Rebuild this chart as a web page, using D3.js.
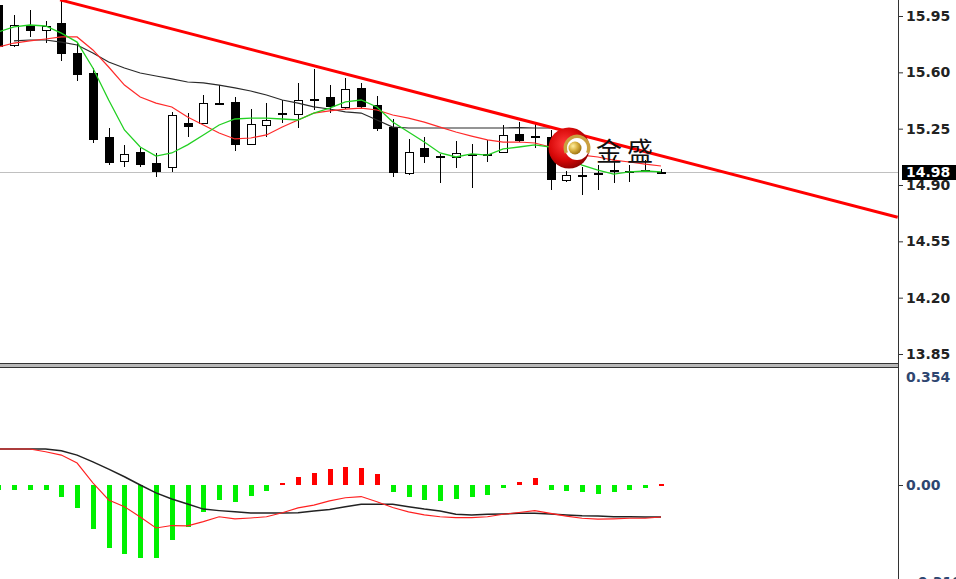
<!DOCTYPE html>
<html><head><meta charset="utf-8">
<script src="https://cdn.jsdelivr.net/npm/d3@7"></script>
<style>html,body{margin:0;padding:0;background:#fff;overflow:hidden}</style>
</head><body>
<svg id="c" width="956" height="579"></svg>
<script>
// ---------- DATA ----------
const opens  = [16.02,15.77,15.894,15.863,15.907,15.72,15.596,15.198,15.05,15.105,15.037,15.012,15.285,15.285,15.412,15.416,15.155,15.273,15.347,15.34,15.434,15.447,15.385,15.503,15.397,15.26,14.975,15.13,15.082,15.074,15.093,15.087,15.105,15.217,15.205,15.198,14.93,14.962,14.97,14.99,14.98,14.99,14.98];
const highs  = [16.08,15.956,15.987,15.92,16.05,15.78,15.627,15.254,15.15,15.13,15.10,15.354,15.347,15.46,15.52,15.447,15.372,15.41,15.428,15.534,15.62,15.52,15.565,15.534,15.453,15.31,15.186,15.198,15.09,15.174,15.155,15.18,15.273,15.29,15.285,15.24,14.99,15.01,15.025,15.074,15.025,15.055,15.0];
const lows   = [15.75,15.76,15.82,15.78,15.67,15.546,15.16,15.024,15.012,15.012,14.95,14.98,15.198,15.28,15.405,15.11,15.15,15.2,15.285,15.254,15.366,15.347,15.372,15.378,15.235,14.95,14.962,15.037,14.91,15.006,14.88,15.04,15.099,15.167,15.13,14.87,14.92,14.84,14.87,14.91,14.92,14.98,14.975];
const closes = [15.76,15.894,15.857,15.888,15.714,15.583,15.18,15.037,15.093,15.024,14.98,15.335,15.26,15.41,15.408,15.149,15.279,15.304,15.335,15.428,15.422,15.385,15.497,15.385,15.248,14.975,15.105,15.074,15.078,15.099,15.087,15.093,15.21,15.174,15.19,14.93,14.962,14.956,14.975,14.994,14.985,14.994,14.981];

const maGreen = [15.851,15.882,15.894,15.888,15.844,15.788,15.627,15.428,15.242,15.136,15.080,15.099,15.149,15.211,15.273,15.310,15.316,15.316,15.310,15.304,15.347,15.378,15.416,15.428,15.385,15.291,15.229,15.167,15.099,15.074,15.093,15.086,15.124,15.136,15.149,15.136,15.068,15.024,14.993,14.968,14.981,14.987,14.981];
const maRed   = [15.757,15.782,15.795,15.807,15.820,15.820,15.739,15.633,15.521,15.447,15.409,15.385,15.322,15.273,15.223,15.186,15.192,15.211,15.260,15.304,15.347,15.360,15.372,15.378,15.366,15.335,15.316,15.291,15.260,15.229,15.204,15.180,15.167,15.167,15.161,15.136,15.117,15.086,15.074,15.055,15.043,15.030,15.018];
const maBlack = [null,15.795,15.801,15.801,15.788,15.770,15.720,15.664,15.627,15.596,15.577,15.559,15.540,15.534,15.521,15.503,15.484,15.459,15.428,15.409,15.385,15.372,15.354,15.347,15.304,15.260,15.254,15.254,15.254,15.254,15.254,15.254,15.254,15.257,15.254,15.254];

const trendPoints = [{i:3.92, p:16.05},{i:57.0, p:14.70}];
const lastPrice = 14.98;
const priceTicks = [15.95,15.60,15.25,14.90,14.55,14.20,13.85];

const macdHist   = [-0.016,-0.016,-0.016,-0.016,-0.039,-0.075,-0.144,-0.207,-0.226,-0.239,-0.239,-0.180,-0.138,-0.089,-0.049,-0.056,-0.036,-0.020,0.007,0.026,0.039,0.052,0.059,0.056,0.036,-0.023,-0.039,-0.049,-0.052,-0.046,-0.039,-0.033,-0.010,0.010,0.023,-0.016,-0.020,-0.023,-0.030,-0.023,-0.016,-0.010,0.004];
const macdBlack  = [0.118,0.118,0.118,0.118,0.112,0.098,0.076,0.052,0.027,0.000,-0.026,-0.046,-0.062,-0.079,-0.084,-0.088,-0.092,-0.092,-0.092,-0.091,-0.085,-0.080,-0.071,-0.063,-0.063,-0.063,-0.071,-0.079,-0.085,-0.096,-0.098,-0.096,-0.095,-0.093,-0.093,-0.095,-0.098,-0.101,-0.102,-0.104,-0.104,-0.105,-0.105];
const macdRed    = [0.118,0.118,0.118,0.109,0.098,0.072,0.007,-0.049,-0.071,-0.105,-0.141,-0.133,-0.134,-0.120,-0.104,-0.111,-0.108,-0.104,-0.091,-0.075,-0.066,-0.052,-0.042,-0.038,-0.055,-0.074,-0.088,-0.098,-0.104,-0.107,-0.107,-0.104,-0.096,-0.090,-0.084,-0.093,-0.102,-0.109,-0.112,-0.111,-0.109,-0.109,-0.105];
const macdTicks  = [0.354, 0.00, -0.318];

// ---------- LAYOUT ----------
const W = 956, H = 579, axisX = 898, mainBottom = 363, macdTop = 368;
const svg = d3.select("#c");
const x  = d3.scaleLinear().domain([0,42]).range([-1.8,661]);
const y  = d3.scaleLinear().domain([15.95,13.85]).range([16,354]);
const ym = d3.scaleLinear().domain([0,0.354]).range([485,377]);

const defs = svg.append("defs");
defs.append("clipPath").attr("id","clipMain").append("rect").attr("x",0).attr("y",0).attr("width",axisX).attr("height",mainBottom);
defs.append("clipPath").attr("id","clipMacd").append("rect").attr("x",0).attr("y",macdTop).attr("width",axisX).attr("height",H-macdTop);

svg.append("rect").attr("width",W).attr("height",H).attr("fill","#fff");

// ---------- MAIN PANEL ----------
const gMain = svg.append("g").attr("clip-path","url(#clipMain)");

gMain.append("line").attr("x1",0).attr("x2",axisX).attr("y1",Math.round(y(lastPrice))+0.5).attr("y2",Math.round(y(lastPrice))+0.5)
  .attr("stroke","#c0c0c0").attr("stroke-width",1);

const idx = d3.range(opens.length);
const cw = 8;
const gc = gMain.append("g").attr("shape-rendering","crispEdges");
idx.forEach(i=>{
  const cx = Math.round(x(i))+0.5;
  gc.append("line").attr("x1",cx).attr("x2",cx).attr("y1",y(highs[i])).attr("y2",y(lows[i])).attr("stroke","#000").attr("stroke-width",1);
  const up = closes[i] >= opens[i];
  const top = y(Math.max(opens[i],closes[i])), bot = y(Math.min(opens[i],closes[i]));
  const h = Math.max(1, bot-top);
  if (up) {
    gc.append("rect").attr("x",cx-cw/2).attr("y",Math.round(top)+0.5).attr("width",cw).attr("height",Math.max(1,Math.round(h)))
      .attr("fill","#fff").attr("stroke","#000").attr("stroke-width",1);
  } else {
    gc.append("rect").attr("x",cx-cw/2-0.5).attr("y",Math.round(top)).attr("width",cw+1).attr("height",Math.max(1.5,Math.round(h)))
      .attr("fill","#000");
  }
});

const lineP = d3.line().defined(d=>d!=null).x((d,i)=>x(i)).y(d=>y(d));
gMain.append("path").datum(maBlack).attr("d",lineP).attr("fill","none").attr("stroke","#2a2a2a").attr("stroke-width",1.2);
gMain.append("path").datum(maRed).attr("d",lineP).attr("fill","none").attr("stroke","#ff2a2a").attr("stroke-width",1.2);
gMain.append("path").datum(maGreen).attr("d",lineP).attr("fill","none").attr("stroke","#22d022").attr("stroke-width",1.3);

gMain.append("line")
  .attr("x1",x(trendPoints[0].i)).attr("y1",y(trendPoints[0].p))
  .attr("x2",x(trendPoints[1].i)).attr("y2",y(trendPoints[1].p))
  .attr("stroke","#ff0000").attr("stroke-width",3);

// logo
const rg = defs.append("radialGradient").attr("id","redG").attr("cx","40%").attr("cy","40%").attr("r","65%");
rg.append("stop").attr("offset","0%").attr("stop-color","#ff3a3a");
rg.append("stop").attr("offset","60%").attr("stop-color","#d80808");
rg.append("stop").attr("offset","100%").attr("stop-color","#8a0000");
const gg = defs.append("radialGradient").attr("id","goldG").attr("cx","35%").attr("cy","35%").attr("r","70%");
gg.append("stop").attr("offset","0%").attr("stop-color","#fff0a0");
gg.append("stop").attr("offset","50%").attr("stop-color","#d8b040");
gg.append("stop").attr("offset","100%").attr("stop-color","#9a7010");
const logo = svg.append("g");
logo.append("circle").attr("cx",569).attr("cy",148).attr("r",20.5).attr("fill","url(#redG)");
logo.append("circle").attr("cx",577).attr("cy",148).attr("r",12).attr("fill","#fff");
logo.append("path").attr("transform","translate(577,148)")
  .attr("d",d3.arc().innerRadius(10).outerRadius(13.5).startAngle(-2.0).endAngle(2.0)())
  .attr("fill","#c9a040");
logo.append("circle").attr("cx",575).attr("cy",148).attr("r",6.5).attr("fill","url(#goldG)");
svg.append("text").attr("x",596).attr("y",161).text("金盛")
  .attr("font-family","'Noto Sans CJK SC','Noto Sans CJK JP',sans-serif").attr("font-size",26)
  .attr("letter-spacing",5).attr("fill","#111");

// ---------- MACD PANEL ----------
const gM = svg.append("g").attr("clip-path","url(#clipMacd)");
const gh = gM.append("g").attr("shape-rendering","crispEdges");
macdHist.forEach((v,i)=>{
  const cx = Math.round(x(i));
  const y0 = ym(0), y1 = ym(v);
  gh.append("rect").attr("x",cx-2.5).attr("width",5)
    .attr("y",Math.min(y0,y1)).attr("height",Math.max(2,Math.abs(y1-y0)))
    .attr("fill", v>0 ? "#ff0000" : "#00f000");
});
const lineM = d3.line().x((d,i)=>x(i)).y(d=>ym(d));
gM.append("path").datum(macdBlack).attr("d",lineM).attr("fill","none").attr("stroke","#222").attr("stroke-width",1.5);
gM.append("path").datum(macdRed).attr("d",lineM).attr("fill","none").attr("stroke","#ff2020").attr("stroke-width",1.1);

// ---------- FRAME & AXES ----------
const frame = svg.append("g").attr("shape-rendering","crispEdges");
frame.append("rect").attr("x",0).attr("y",364).attr("width",axisX).attr("height",3).attr("fill","#b8b8b8");
frame.append("line").attr("x1",0).attr("x2",axisX+1).attr("y1",363.5).attr("y2",363.5).attr("stroke","#333");
frame.append("line").attr("x1",0).attr("x2",axisX+1).attr("y1",367.5).attr("y2",367.5).attr("stroke","#333");
frame.append("line").attr("x1",axisX+0.5).attr("x2",axisX+0.5).attr("y1",0).attr("y2",H).attr("stroke","#333");

const fontFam = "'DejaVu Sans',Verdana,sans-serif";
const ax = svg.append("g").attr("transform",`translate(${axisX+1},0)`)
  .call(d3.axisRight(y).tickValues(priceTicks).tickSize(4).tickPadding(3).tickFormat(d3.format(".2f")));
ax.select(".domain").remove();
ax.selectAll("line").attr("stroke","#333");
ax.selectAll("text").attr("font-family",fontFam).attr("font-size",14).attr("font-weight","bold").attr("fill","#222");

const axm = svg.append("g").attr("transform",`translate(${axisX+1},0)`)
  .call(d3.axisRight(ym).tickValues(macdTicks).tickSize(4).tickPadding(3)
    .tickFormat(d=> d===0 ? "0.00" : d3.format(".3f")(d)));
axm.select(".domain").remove();
axm.selectAll("line").attr("stroke","#333").filter(d=>d!==0).remove();
axm.selectAll("text").attr("font-family",fontFam).attr("font-size",14).attr("font-weight","bold").attr("fill","#2e4670");

const ly = y(lastPrice);
svg.append("rect").attr("x",902).attr("y",Math.round(ly)-7).attr("width",54).attr("height",15).attr("fill","#000");
svg.append("text").attr("x",906).attr("y",ly).attr("dy","0.35em").text(d3.format(".2f")(lastPrice))
  .attr("font-family",fontFam).attr("font-size",14).attr("font-weight","bold").attr("fill","#fff");
</script>
</body></html>
